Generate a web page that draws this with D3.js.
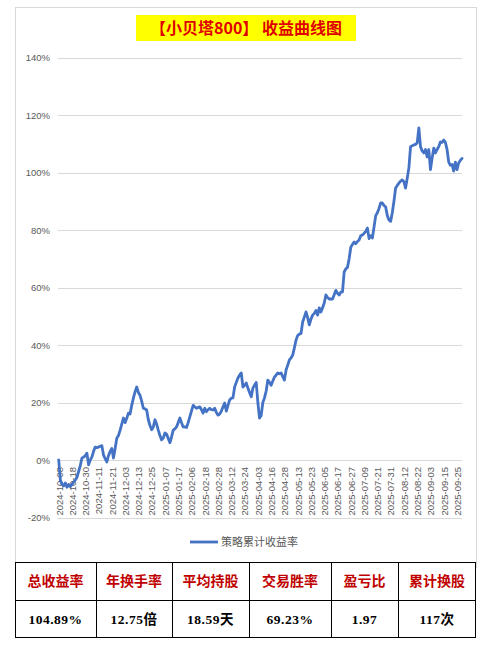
<!DOCTYPE html>
<html lang="zh">
<head>
    <meta charset="UTF-8">
    <title>收益曲线图</title>
    <script src="https://cdn.jsdelivr.net/npm/d3@7"></script>
    <style>
        body { margin: 0; background: #fff; }
        svg { display: block; }
    </style>
</head>
<body>
    <svg id="chart" width="488" height="651"></svg>

    <script>
        // x轴标签(每8个交易日一个)
        const dateLabels = [
            "2024-10-08", "2024-10-18", "2024-10-30", "2024-11-11", "2024-11-21",
            "2024-12-03", "2024-12-13", "2024-12-25", "2025-01-07", "2025-01-17",
            "2025-02-06", "2025-02-18", "2025-02-28", "2025-03-12", "2025-03-24",
            "2025-04-03", "2025-04-16", "2025-04-28", "2025-05-13", "2025-05-23",
            "2025-06-05", "2025-06-17", "2025-06-27", "2025-07-09", "2025-07-21",
            "2025-07-31", "2025-08-12", "2025-08-22", "2025-09-03", "2025-09-15",
            "2025-09-25"
        ];

        // 策略累计收益率 (%), 每个交易日一个值
        const cumReturn = [
            0, -7, -8.5, -9, -8, -9.5, -8.5, -9.3, -8.5, -7.7,
            -7, -6, -4, -2, 0.7, 1, 1.5, 2.4, -1.7, 0,
            1, 3, 4.5, 4.3, 4.5, 4.8, 5, 1.7, 0.5, -0.7,
            1.5, 3, 4, 0.7, 4, 7.6, 8.5, 10.4, 12.5, 14.6,
            13, 14.5, 16.3, 16, 19, 21.5, 23.7, 25.4, 23.5, 22.5,
            20.5, 18, 17.8, 17.4, 14, 12, 10.5, 11.5, 14, 12.5,
            10.4, 8.5, 7, 7.6, 9.4, 9, 7.5, 6, 8, 10.4,
            10.8, 11.5, 13, 14.6, 13, 11.5, 11.5, 11.3, 13, 15,
            17, 19, 18.5, 18, 18.3, 18.5, 17.5, 16.3, 18, 16.8,
            17.5, 18, 17.5, 17.4, 18, 16.5, 15.6, 16, 17, 18.5,
            19.8, 17, 19, 20.9, 21.5, 21.6, 25.4, 27, 28.5, 29.5,
            30.3, 25.4, 26, 26.8, 25, 23.5, 22, 25, 26, 27,
            20, 14.6, 15.5, 20, 21.6, 24, 27.8, 27, 26, 27.5,
            28.9, 29.5, 30.3, 30, 30.3, 29, 27.8, 31.3, 33, 34.8,
            35.5, 36.5, 39, 41.7, 43.3, 43.8, 44, 48, 49.7, 51.5,
            49.5, 47, 49, 50.4, 51, 52, 50.4, 52.9, 51.5, 53,
            54.6, 57.4, 56.5, 56, 56, 56, 57.5, 59, 58, 57.4,
            58.4, 58.5, 65.4, 66.5, 67, 70, 74, 75, 75.8, 75.2,
            76, 76.5, 78, 78.3, 78.8, 79.5, 80.7, 77, 78, 77.2,
            81, 85, 86, 87.5, 89.4, 89.4, 88.5, 88, 85, 83.5,
            83, 86, 90, 94.6, 95.5, 96.3, 97, 97.4, 96.8, 94.6,
            98, 101.6, 109, 109.3, 109.6, 109.8, 110.3, 115.5, 109, 107.5,
            106.8, 108, 105.4, 108, 101, 105, 108.5, 106.8, 108, 109,
            110.6, 110.5, 111.3, 110.5, 108, 103.6, 102.5, 102.8, 100.5, 103.6,
            101, 103.3, 104.2, 104.89
        ];

        const yTicks = [-20, 0, 20, 40, 60, 80, 100, 120, 140];

        // 统计表
        const statNames = ["总收益率", "年换手率", "平均持股", "交易胜率", "盈亏比", "累计换股"];
        const statValues = ["104.89%", "12.75倍", "18.59天", "69.23%", "1.97", "117次"];

        const svg = d3.select("#chart");
        const axisFont = "'Liberation Sans', Arial, 'Noto Sans CJK SC', sans-serif";

        // 图表外框
        svg.append("rect")
            .attr("x", 15.5)
            .attr("y", 7.5)
            .attr("width", 461)
            .attr("height", 560)
            .attr("fill", "#fff")
            .attr("stroke", "#d9d9d9");

        // 标题
        svg.append("rect")
            .attr("x", 136)
            .attr("y", 15)
            .attr("width", 220)
            .attr("height", 26)
            .attr("fill", "#ffff00");

        svg.append("text")
            .attr("x", 246)
            .attr("y", 34)
            .attr("text-anchor", "middle")
            .attr("font-family", "'Noto Sans CJK SC', sans-serif")
            .attr("font-weight", "bold")
            .attr("font-size", "16px")
            .attr("fill", "#e00000")
            .text("【小贝塔800】 收益曲线图");

        const x = d3.scaleLinear()
            .domain([0, cumReturn.length - 1])
            .range([58.7, 462]);

        const y = d3.scaleLinear()
            .domain([-20, 140])
            .range([517.5, 57.5]);

        // 网格线
        svg.append("g")
            .selectAll("line")
            .data(yTicks)
            .join("line")
            .attr("x1", 58)
            .attr("x2", 462)
            .attr("y1", d => Math.round(y(d)) + 0.5)
            .attr("y2", d => Math.round(y(d)) + 0.5)
            .attr("stroke", "#d9d9d9");

        // y轴
        const yAxis = svg.append("g")
            .attr("transform", "translate(50,0)")
            .call(d3.axisLeft(y).tickValues(yTicks).tickFormat(d => d + "%").tickSize(0).tickPadding(0));
        yAxis.select(".domain").remove();
        yAxis.selectAll("text")
            .attr("font-family", axisFont)
            .attr("font-size", "9.5px")
            .attr("fill", "#595959");

        // x轴标签
        const xAxis = svg.append("g")
            .attr("transform", `translate(0,${y(0)})`)
            .call(d3.axisBottom(x)
                .tickValues(d3.range(0, dateLabels.length * 8, 8))
                .tickFormat((d, i) => dateLabels[i])
                .tickSize(0));
        xAxis.select(".domain").remove();
        xAxis.selectAll("text")
            .attr("font-family", axisFont)
            .attr("font-size", "9.5px")
            .attr("fill", "#595959")
            .attr("text-anchor", "end")
            .attr("transform", "rotate(-90)")
            .attr("x", -7)
            .attr("y", 0)
            .attr("dy", "0.35em");

        // 收益曲线
        const line = d3.line()
            .x((d, i) => x(i))
            .y(d => y(d));

        svg.append("path")
            .datum(cumReturn)
            .attr("d", line)
            .attr("fill", "none")
            .attr("stroke", "#4472c4")
            .attr("stroke-width", 2.8)
            .attr("stroke-linejoin", "round")
            .attr("stroke-linecap", "round");

        // 图例
        svg.append("line")
            .attr("x1", 190)
            .attr("x2", 218)
            .attr("y1", 542)
            .attr("y2", 542)
            .attr("stroke", "#4472c4")
            .attr("stroke-width", 2.8);

        svg.append("text")
            .attr("x", 221)
            .attr("y", 546)
            .attr("font-family", "'Noto Sans CJK SC', sans-serif")
            .attr("font-size", "11px")
            .attr("fill", "#595959")
            .text("策略累计收益率");

        // 统计表
        const colEdges = [15, 96, 172, 249, 331, 398, 476];
        const rowEdges = [562, 600, 638];
        const table = svg.append("g");

        table.append("rect")
            .attr("x", 15.5)
            .attr("y", 562.5)
            .attr("width", 460)
            .attr("height", 75)
            .attr("fill", "#fff")
            .attr("stroke", "#000");

        table.append("line")
            .attr("x1", 15)
            .attr("x2", 476)
            .attr("y1", 600.5)
            .attr("y2", 600.5)
            .attr("stroke", "#000");

        table.selectAll(".col")
            .data(colEdges.slice(1, -1))
            .join("line")
            .attr("x1", d => d + 0.5)
            .attr("x2", d => d + 0.5)
            .attr("y1", 562)
            .attr("y2", 638)
            .attr("stroke", "#000");

        table.selectAll(".head")
            .data(statNames)
            .join("text")
            .attr("x", (d, i) => (colEdges[i] + colEdges[i + 1]) / 2)
            .attr("y", (rowEdges[0] + rowEdges[1]) / 2 + 5)
            .attr("text-anchor", "middle")
            .attr("font-family", "'Noto Sans CJK SC', sans-serif")
            .attr("font-weight", "bold")
            .attr("font-size", "14px")
            .attr("fill", "#c00000")
            .text(d => d);

        table.selectAll(".val")
            .data(statValues)
            .join("text")
            .attr("x", (d, i) => (colEdges[i] + colEdges[i + 1]) / 2)
            .attr("y", (rowEdges[1] + rowEdges[2]) / 2 + 5)
            .attr("text-anchor", "middle")
            .attr("font-family", "'Liberation Serif', 'Noto Sans CJK SC', serif")
            .attr("font-weight", "bold")
            .attr("font-size", "13.5px")
            .attr("letter-spacing", "0.5px")
            .attr("fill", "#000")
            .text(d => d);
    </script>
</body>
</html>
